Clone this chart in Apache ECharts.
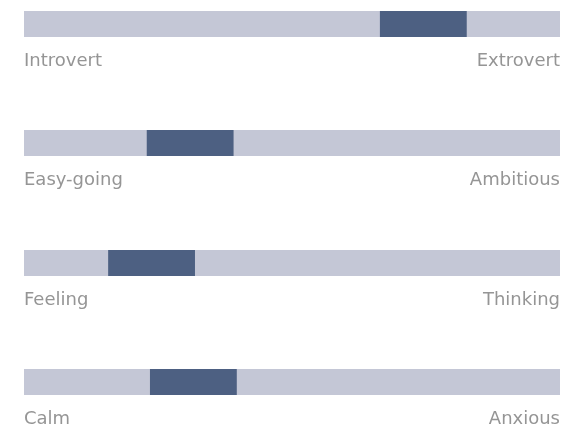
<!DOCTYPE html>
<html>
<head>
<meta charset="utf-8">
<script src="https://cdn.jsdelivr.net/npm/echarts@6/dist/echarts.min.js"></script>
<style>
  html, body { margin: 0; padding: 0; background: #ffffff; }
  #chart { width: 563px; height: 428px; }
</style>
</head>
<body>
<div id="chart"></div>
<script>
// Personality scales: each trait sits on a 0–100 axis between two poles.
const leftPoles  = ['Introvert', 'Easy-going', 'Feeling', 'Calm'];
const rightPoles = ['Extrovert', 'Ambitious', 'Thinking', 'Anxious'];
const rangeStart = [66.4, 22.9, 15.7, 23.5];
const rangeWidth = [16.2, 16.2, 16.2, 16.2];

const barTops = [11, 130, 250, 369];
const barHeight = 26;
const trackColor = '#c4c7d6';
const markColor = '#4d6082';
const labelColor = '#959595';

const grids = [], xAxes = [], yAxes = [], series = [];
leftPoles.forEach((left, i) => {
  grids.push({ left: 24, right: 3, top: barTops[i], height: barHeight });
  xAxes.push({
    gridIndex: i, type: 'value', min: 0, max: 100, interval: 100,
    axisLine: { show: false }, axisTick: { show: false }, splitLine: { show: false },
    axisLabel: {
      margin: 15,
      color: labelColor,
      fontSize: 18,
      fontFamily: 'DejaVu Sans, sans-serif',
      alignMinLabel: 'left',
      alignMaxLabel: 'right',
      formatter: v => (v === 0 ? left : rightPoles[i])
    }
  });
  yAxes.push({
    gridIndex: i, type: 'category', data: [left], show: false
  });
  series.push({
    type: 'bar', xAxisIndex: i, yAxisIndex: i, stack: 's' + i,
    data: [rangeStart[i]], barWidth: barHeight,
    itemStyle: { color: 'transparent' },
    showBackground: true,
    backgroundStyle: { color: trackColor },
    silent: true
  });
  series.push({
    type: 'bar', xAxisIndex: i, yAxisIndex: i, stack: 's' + i,
    data: [rangeWidth[i]], barWidth: barHeight,
    itemStyle: { color: markColor },
    silent: true
  });
});

const chart = echarts.init(document.getElementById('chart'), null, { renderer: 'canvas' });
chart.setOption({
  animation: false,
  backgroundColor: '#ffffff',
  grid: grids,
  xAxis: xAxes,
  yAxis: yAxes,
  series: series
});
</script>
</body>
</html>
